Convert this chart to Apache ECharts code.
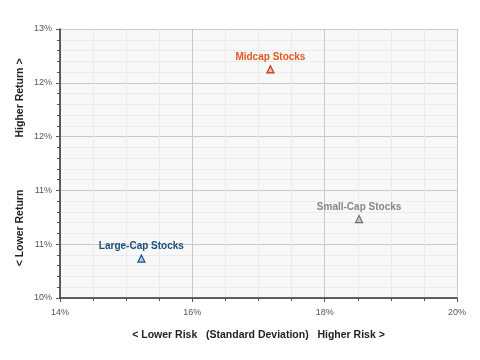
<!DOCTYPE html>
<html><head><meta charset="utf-8">
<script src="https://cdn.jsdelivr.net/npm/echarts@6/dist/echarts.min.js"></script>
<style>html,body{margin:0;padding:0;background:#fff}#c{width:480px;height:360px}</style>
</head><body><div id="c"></div>
<script>
var names = ['Midcap Stocks', 'Small-Cap Stocks', 'Large-Cap Stocks'];
var risk = [17.18, 18.52, 15.23];
var ret = [12.55, 10.88, 10.44];
var labelColors = ['#e2581e', '#858585', '#1b4f7a'];
var markerFill = ['#f7b8a6', '#c8c8c8', '#a9cde8'];
var markerBorder = ['#b8321a', '#6e6e6e', '#1b4f7a'];
var xTickValues = [14, 16, 18, 20];
var yTickValues = [10, 10.6, 11.2, 11.8, 12.4, 13];

var FONT = 'Liberation Sans';
var series = names.map(function (n, i) {
  return {
    type: 'scatter', name: n, symbol: 'triangle', symbolSize: 7,
    data: [[risk[i], ret[i]]],
    itemStyle: { color: markerFill[i], borderColor: markerBorder[i], borderWidth: 1.2, opacity: 1 },
    label: { show: true, position: 'top', distance: 3, formatter: n, color: labelColors[i],
      fontFamily: FONT, fontWeight: 'bold', fontSize: 10 }
  };
});
var chart = echarts.init(document.getElementById('c'), null, { renderer: 'canvas' });
chart.setOption({
  animation: false,
  grid: { left: 60, right: 23, top: 29, bottom: 62, show: true, backgroundColor: '#f8f8f8', borderWidth: 0 },
  xAxis: {
    type: 'value', min: xTickValues[0], max: xTickValues[xTickValues.length - 1], interval: 2,
    axisLine: { show: true, lineStyle: { color: '#333', width: 1.5 } },
    axisTick: { show: true, length: 4, lineStyle: { color: '#555' } },
    minorTick: { show: true, splitNumber: 4, length: 3, lineStyle: { color: '#555' } },
    splitLine: { show: true, lineStyle: { color: '#c8c8c8', width: 1 } },
    minorSplitLine: { show: true, lineStyle: { color: '#ebebeb', width: 1 } },
    axisLabel: { formatter: function (v) { return Math.round(v) + '%'; }, color: '#555', fontFamily: FONT, fontSize: 9, margin: 10 },
    name: '< Lower Risk   (Standard Deviation)   Higher Risk >', nameLocation: 'middle', nameGap: 32,
    nameTextStyle: { color: '#222', fontFamily: FONT, fontWeight: 'bold', fontSize: 10.5 }
  },
  yAxis: {
    type: 'value', min: yTickValues[0], max: yTickValues[yTickValues.length - 1], interval: 0.6,
    axisLine: { show: true, lineStyle: { color: '#333', width: 1.5 } },
    axisTick: { show: true, length: 4, lineStyle: { color: '#555' } },
    minorTick: { show: true, splitNumber: 5, length: 3, lineStyle: { color: '#555' } },
    splitLine: { show: true, lineStyle: { color: '#c8c8c8', width: 1 } },
    minorSplitLine: { show: true, lineStyle: { color: '#ebebeb', width: 1 } },
    axisLabel: { formatter: function (v) { return Math.round(v) + '%'; }, color: '#555', fontFamily: FONT, fontSize: 9, margin: 8 }
  },
  graphic: [
    { type: 'text', x: 20, y: 98, rotation: Math.PI / 2, style: { text: 'Higher Return >', fill: '#222', font: 'bold 10.5px "Liberation Sans"', align: 'center', verticalAlign: 'middle' } },
    { type: 'text', x: 20, y: 228, rotation: Math.PI / 2, style: { text: '< Lower Return', fill: '#222', font: 'bold 10.5px "Liberation Sans"', align: 'center', verticalAlign: 'middle' } }
  ],
  series: series
});
</script></body></html>
